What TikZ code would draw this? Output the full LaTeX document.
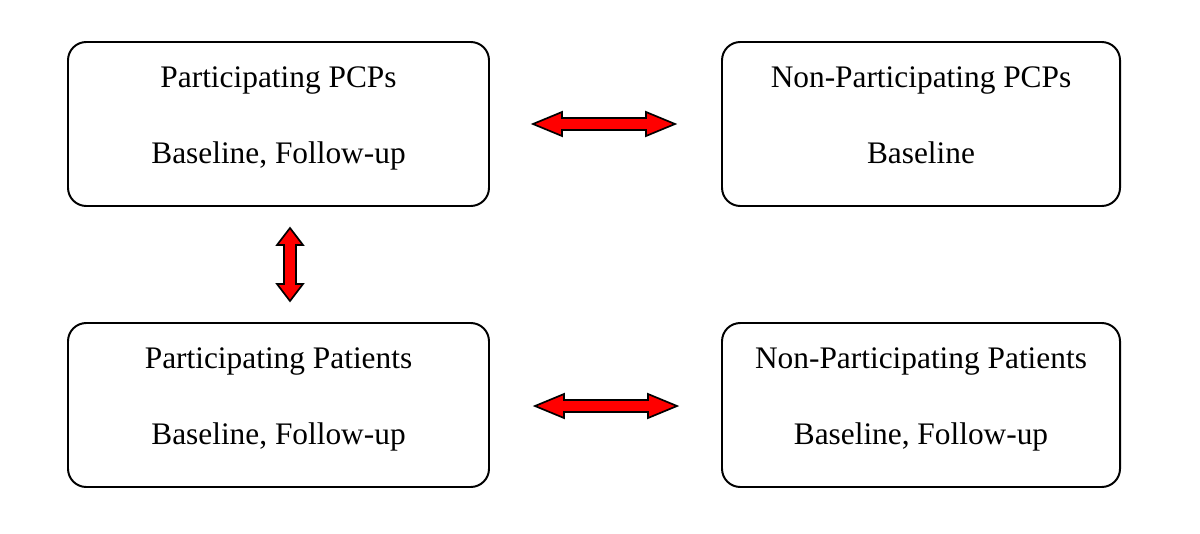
\documentclass[tikz,border=0pt]{standalone}
\usepackage{fontspec}
\setmainfont{Liberation Serif}
\usetikzlibrary{positioning}
\tikzset{box/.style = {draw, line width=1.4pt, rounded corners=13pt,
                       minimum width=#1, minimum height=164*0.025cm},
         box/.default = 421*0.025cm,
         boxtext/.style = {align=center, font=\fontsize{22.3}{54}\selectfont},
         blockarrow/.style = {draw, fill=red, line width=1.2pt, line join=miter}}

\begin{document}
\begin{tikzpicture}[x=0.025cm, y=-0.025cm]
    \useasboundingbox (0, 0) rectangle (1200, 533);

    \node [box] (pcp) at (278.5, 124) {};
    \node [box=398*0.025cm] (nonpcp) at (921, 124) {};
    \node [box] (pat) at (278.5, 405) {};
    \node [box=398*0.025cm] (nonpat) at (921, 405) {};

    \node [boxtext] at ([yshift=10pt]pcp.center) {\strut Participating PCPs\\\strut Baseline, Follow-up};
    \node [boxtext] at ([yshift=10pt]nonpcp.center) {\strut Non-Participating PCPs\\\strut Baseline};
    \node [boxtext] at ([yshift=10pt]pat.center) {\strut Participating Patients\\\strut Baseline, Follow-up};
    \node [boxtext] at ([yshift=10pt]nonpat.center) {\strut Non-Participating Patients\\\strut Baseline, Follow-up};

    % block arrows between the groups
    \draw [blockarrow, shift={(604, 124)}]
      (-71, 0) -- (-42, -12) -- (-42, -6) -- (42, -6) -- (42, -12) -- (71, 0)
      -- (42, 12) -- (42, 6) -- (-42, 6) -- (-42, 12) -- cycle;
    \draw [blockarrow, shift={(606, 406)}]
      (-71, 0) -- (-42, -12) -- (-42, -6) -- (42, -6) -- (42, -12) -- (71, 0)
      -- (42, 12) -- (42, 6) -- (-42, 6) -- (-42, 12) -- cycle;
    \draw [blockarrow, shift={(290, 264.5)}]
      (0, -36.5) -- (-13, -19.5) -- (-6, -19.5) -- (-6, 19.5) -- (-13, 19.5) -- (0, 36.5)
      -- (13, 19.5) -- (6, 19.5) -- (6, -19.5) -- (13, -19.5) -- cycle;
  \end{tikzpicture}
\end{document}
